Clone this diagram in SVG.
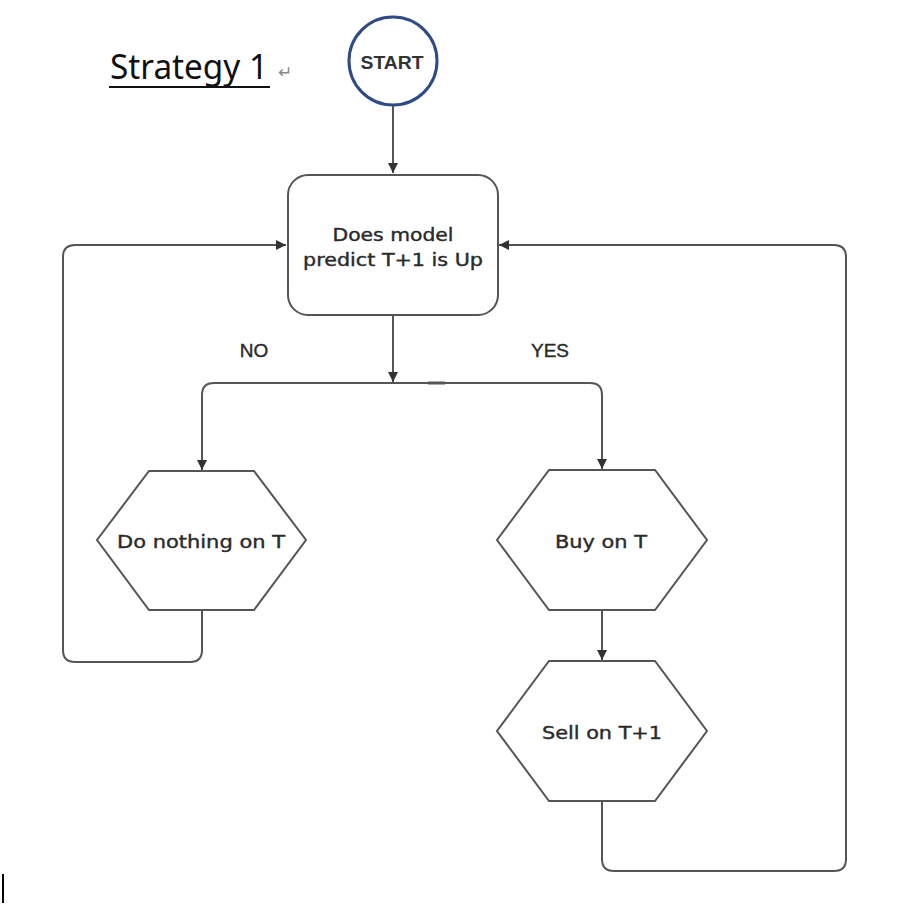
<svg xmlns="http://www.w3.org/2000/svg" width="900" height="912" viewBox="0 0 900 912">
<defs>
<marker id="arr" viewBox="0 0 10 10" refX="10" refY="5" markerWidth="10" markerHeight="10" markerUnits="userSpaceOnUse" orient="auto">
<path d="M0,0 L10,5 L0,10 z" fill="#333"/>
</marker>
<style>
.conn{fill:none;stroke:#555;stroke-width:2}
.shape{fill:#fff;stroke:#555;stroke-width:2}
.lbl{font-family:"DejaVu Sans",Verdana,sans-serif;font-size:18px;fill:#2a2a2a;stroke:#2a2a2a;stroke-width:0.4;text-anchor:middle}
.edge{font-family:"Liberation Sans",Arial,sans-serif;font-size:19px;fill:#2a2a2a;stroke:#2a2a2a;stroke-width:0.4;text-anchor:middle}
</style>
</defs>
<rect width="900" height="912" fill="#fff"/>
<g id="title">
<text x="110" y="79" font-family="'Noto Sans','DejaVu Sans',sans-serif" font-size="34" fill="#111" textLength="158" lengthAdjust="spacingAndGlyphs">Strategy 1</text>
<line x1="109" y1="87" x2="270" y2="87" stroke="#111" stroke-width="2"/>
<text x="278" y="78" font-family="'DejaVu Sans',sans-serif" font-size="17" fill="#888">↵</text>
</g>
<g id="connectors">
<path class="conn" d="M393,106 V173" marker-end="url(#arr)"/>
<path class="conn" d="M393,315 V382" marker-end="url(#arr)"/>
<path class="conn" d="M393,383 H214 Q202,383 202,395 V470" marker-end="url(#arr)"/>
<path class="conn" d="M393,383 H590 Q602,383 602,395 V469" marker-end="url(#arr)"/>
<line x1="428" y1="383" x2="445" y2="383" stroke="#555" stroke-width="3"/>
<path class="conn" d="M602,610 V660" marker-end="url(#arr)"/>
<path class="conn" d="M202,610 V650 Q202,662 190,662 H75 Q63,662 63,650 V257 Q63,245 75,245 H286" marker-end="url(#arr)"/>
<path class="conn" d="M602,801 V859 Q602,871 614,871 H834 Q846,871 846,859 V257 Q846,245 834,245 H499" marker-end="url(#arr)"/>
<text class="edge" x="254" y="357">NO</text>
<text class="edge" x="550" y="357">YES</text>
</g>
<g id="start">
<circle cx="393" cy="61" r="44" fill="#fff" stroke="#2e4a87" stroke-width="3"/>
<text x="392" y="69" font-family="'Liberation Sans',Arial,sans-serif" font-size="18" font-weight="bold" fill="#333" text-anchor="middle" textLength="63" lengthAdjust="spacingAndGlyphs">START</text>
</g>
<g id="decision">
<rect class="shape" x="288" y="175" width="210" height="140" rx="20" ry="20"/>
<text class="lbl" x="393" y="241" textLength="121" lengthAdjust="spacingAndGlyphs">Does model</text>
<text class="lbl" x="393" y="266" textLength="180" lengthAdjust="spacingAndGlyphs">predict T+1 is Up</text>
</g>
<g id="donothing">
<polygon class="shape" points="149,471 254,471 306,540 254,610 149,610 97,540"/>
<text class="lbl" x="201" y="548" textLength="168" lengthAdjust="spacingAndGlyphs">Do nothing on T</text>
</g>
<g id="buy">
<polygon class="shape" points="549,470 655,470 707,540 655,610 549,610 497,540"/>
<text class="lbl" x="601" y="548" textLength="92" lengthAdjust="spacingAndGlyphs">Buy on T</text>
</g>
<g id="sell">
<polygon class="shape" points="549,661 655,661 707,731 655,801 549,801 497,731"/>
<text class="lbl" x="602" y="739" textLength="120" lengthAdjust="spacingAndGlyphs">Sell on T+1</text>
</g>
<rect x="2" y="874" width="2" height="29" fill="#000"/>
</svg>
